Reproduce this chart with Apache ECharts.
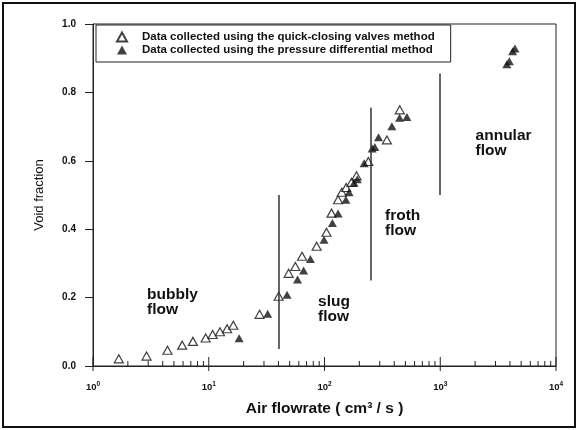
<!DOCTYPE html>
<html>
<head>
<meta charset="utf-8">
<script src="https://cdn.jsdelivr.net/npm/echarts@6/dist/echarts.min.js"></script>
<style>
  html, body { margin: 0; padding: 0; background: #fff; }
  #chart { width: 578px; height: 430px; }
</style>
</head>
<body>
<div id="chart"></div>
<script>
// Void fraction vs. air flowrate, two measuring methods
const quickValveFlow = [1.67, 2.9, 4.4, 5.9, 7.3, 9.4, 10.8, 12.5, 14.4, 16.3, 27.5, 40.2, 49, 56, 64, 85.5, 104, 115, 131, 141, 154, 171, 189, 239, 346, 447];
const quickValveVoid = [0.021, 0.029, 0.046, 0.061, 0.072, 0.082, 0.092, 0.1, 0.109, 0.119, 0.151, 0.204, 0.271, 0.291, 0.321, 0.35, 0.391, 0.447, 0.486, 0.508, 0.522, 0.537, 0.556, 0.598, 0.661, 0.749];

const pressureFlow = [18.3, 32.3, 47.5, 58.5, 66, 75.5, 99, 117, 131, 153, 163, 180, 192, 220, 258, 272, 293, 382, 445, 515, 3760, 3950, 4220, 4420];
const pressureVoid = [0.081, 0.153, 0.208, 0.253, 0.279, 0.313, 0.369, 0.418, 0.446, 0.486, 0.508, 0.536, 0.546, 0.593, 0.636, 0.64, 0.669, 0.701, 0.726, 0.728, 0.882, 0.891, 0.92, 0.928];

// Flow regime boundaries (vertical lines)
const boundaryFlow = [40, 250, 1000];
const boundaryLow = [0.05, 0.25, 0.5];
const boundaryHigh = [0.5, 0.755, 0.855];

// Flow regime names, anchored at their left edge / vertical centre
const regionNames = ['bubbly\nflow', 'slug\nflow', 'froth\nflow', 'annular\nflow'];
const regionFlow = [2.93, 88, 333, 2020];
const regionVoid = [0.187, 0.166, 0.418, 0.65];

const seriesNames = [
  'Data collected using the quick-closing valves method',
  'Data collected using the pressure differential method'
];

const decades = [1, 10, 100, 1000, 10000];

// tick marks along the log axis: decades cross the axis, 2..9 sit inside
const axisTicks = [];
decades.forEach(function (d, i) {
  axisTicks.push([d, 0, 1]);
  if (i < decades.length - 1) {
    for (let k = 2; k <= 9; k++) axisTicks.push([d * k, 0, 0]);
  }
});

const zip = (xs, ys) => xs.map((x, i) => [x, ys[i]]);

const FONT = 'Liberation Sans, Arial, sans-serif';
const chart = echarts.init(document.getElementById('chart'), null, { renderer: 'canvas' });

chart.setOption({
  animation: false,
  backgroundColor: '#fff',
  graphic: [{
    type: 'rect',
    shape: { x: 3, y: 3, width: 572, height: 424 },
    style: { fill: 'none', stroke: '#111', lineWidth: 2 },
    silent: true
  }],
  grid: {
    left: 93, right: 22, top: 24, bottom: 64,
    show: true, borderColor: '#222', borderWidth: 1, backgroundColor: 'transparent'
  },
  legend: {
    orient: 'vertical',
    left: 96, top: 25,
    data: seriesNames,
    itemWidth: 10, itemHeight: 9, itemGap: 1,
    padding: [6, 16, 6, 20],
    borderColor: '#222', borderWidth: 1,
    textStyle: {
      fontFamily: FONT, fontSize: 11.5, fontWeight: 'bold', color: '#111',
      lineHeight: 12, padding: [0, 0, 0, 10]
    }
  },
  xAxis: {
    type: 'log', logBase: 10, min: 1, max: 10000,
    name: 'Air flowrate ( cm\u00b3 / s )',
    nameLocation: 'middle', nameGap: 35,
    nameTextStyle: { fontFamily: FONT, fontSize: 15.5, fontWeight: 'bold', color: '#111' },
    axisLine: { show: true, lineStyle: { color: '#222', width: 1 } },
    axisTick: { show: false },
    splitLine: { show: false },
    axisLabel: {
      margin: 15, color: '#111',
      formatter: v => '{b|10}{s|' + Math.round(Math.log10(v)) + '}',
      rich: {
        b: { fontFamily: FONT, fontSize: 9.5, fontWeight: 'bold', color: '#111' },
        s: { fontFamily: FONT, fontSize: 6.5, fontWeight: 'bold', color: '#111', padding: [0, 0, 5, 0] }
      }
    }
  },
  yAxis: {
    type: 'value', min: 0, max: 1, interval: 0.2,
    name: 'Void fraction',
    nameLocation: 'middle', nameGap: 47,
    nameTextStyle: { fontFamily: FONT, fontSize: 13, color: '#111' },
    axisLine: { show: true, lineStyle: { color: '#222', width: 1 } },
    axisTick: { show: true, inside: false, length: 8, lineStyle: { color: '#222' } },
    splitLine: { show: false },
    axisLabel: {
      margin: 17, fontFamily: FONT, fontSize: 10, fontWeight: 'bold', color: '#111',
      formatter: v => v.toFixed(1)
    }
  },
  series: [
    {
      name: seriesNames[0],
      type: 'scatter',
      symbol: 'triangle',
      symbolSize: [9, 8],
      itemStyle: { color: '#fff', borderColor: '#111', borderWidth: 1.2 },
      data: zip(quickValveFlow, quickValveVoid),
      z: 3
    },
    {
      name: seriesNames[1],
      type: 'scatter',
      symbol: 'triangle',
      symbolSize: [9, 8],
      itemStyle: { color: '#111' },
      data: zip(pressureFlow, pressureVoid),
      z: 4,
      markLine: {
        silent: true,
        symbol: 'none',
        label: { show: false },
        lineStyle: { color: '#333', width: 1.5, type: 'solid' },
        data: boundaryFlow.map((f, i) => [{ coord: [f, boundaryLow[i]] }, { coord: [f, boundaryHigh[i]] }])
      }
    },
    {
      name: 'axisTicks',
      type: 'custom',
      silent: true,
      clip: false,
      data: axisTicks,
      encode: { x: 0, y: 1 },
      renderItem: function (params, api) {
        const p = api.coord([api.value(0), 0]);
        const major = api.value(2) === 1;
        return {
          type: 'line',
          shape: { x1: p[0], y1: p[1] + (major ? 5 : 0), x2: p[0], y2: p[1] - (major ? 9 : 5) },
          style: { stroke: '#222', lineWidth: 1 }
        };
      }
    },
    {
      name: 'regions',
      type: 'custom',
      silent: true,
      clip: false,
      data: regionNames.map((n, i) => [regionFlow[i], regionVoid[i], n]),
      encode: { x: 0, y: 1 },
      renderItem: function (params, api) {
        const p = api.coord([api.value(0), api.value(1)]);
        return {
          type: 'text',
          x: p[0], y: p[1],
          style: {
            text: regionNames[params.dataIndex],
            font: 'bold 15.5px ' + FONT,
            fill: '#111',
            align: 'left',
            verticalAlign: 'middle',
            lineHeight: 15
          }
        };
      }
    }
  ]
});
</script>
</body>
</html>
